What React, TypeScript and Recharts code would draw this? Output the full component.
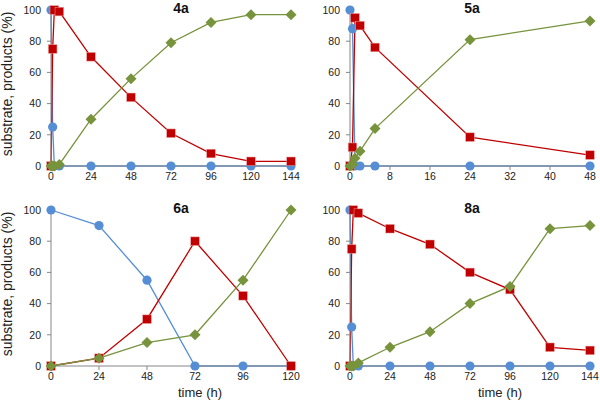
import { LineChart, Line, XAxis, YAxis } from "recharts";

const hoursLong = [0, 1, 2, 5, 24, 48, 72, 96, 120, 144];
const hoursShort = [0, 0.5, 1, 2, 5, 24, 48];
const hoursDaily = [0, 24, 48, 72, 96, 120];

const substrate4a = [100, 25, 0, 0, 0, 0, 0, 0, 0, 0];
const intermediate4a = [0, 75, 100, 99, 70, 44, 21, 8, 3, 3];
const product4a = [0, 0, 0, 1, 30, 56, 79, 92, 97, 97];

const substrate5a = [100, 88, 0, 0, 0, 0, 0];
const intermediate5a = [0, 12, 95, 90, 76, 18.5, 7];
const product5a = [0, 1, 5, 9.5, 24, 81, 93];

const substrate6a = [100, 90, 55, 0, 0, 0];
const intermediate6a = [0, 5, 30, 80, 45, 0];
const product6a = [0, 5, 15, 20, 55, 100];

const substrate8a = [100, 25, 0, 0, 0, 0, 0, 0, 0, 0];
const intermediate8a = [0, 75, 100, 98, 88, 78, 60, 49, 12, 10];
const product8a = [0, 0, 0, 2, 12, 22, 40, 51, 88, 90];

const ticksLong = [0, 24, 48, 72, 96, 120, 144];
const ticksShort = [0, 8, 16, 24, 32, 40, 48];
const ticksDaily = [0, 24, 48, 72, 96, 120];
const yTicks = [0, 20, 40, 60, 80, 100];

const BLUE = "#558ED5";
const RED = "#C00000";
const GREEN = "#77933C";
const AXIS = "#868686";
const FONT = "'Liberation Sans', Arial, sans-serif";

const Circle = (p: any) =>
  p.cx == null ? null : <circle key={p.index} cx={p.cx} cy={p.cy} r={4.6} fill={BLUE} />;
const Square = (p: any) =>
  p.cx == null ? null : (
    <rect key={p.index} x={p.cx - 4.3} y={p.cy - 4.3} width={8.6} height={8.6} fill={RED} stroke="#e9a0a0" strokeWidth={0.5} />
  );
const Diamond = (p: any) =>
  p.cx == null ? null : (
    <path key={p.index} d={`M${p.cx},${p.cy - 5.5}L${p.cx + 5.5},${p.cy}L${p.cx},${p.cy + 5.5}L${p.cx - 5.5},${p.cy}Z`} fill={GREEN} />
  );

function Panel({ left, top, height, times, substrate, intermediate, product, xTicks, yLabel, xLabel, yWidth }: any) {
  const data = times.map((t: number, i: number) => ({ t, s: substrate[i], m: intermediate[i], p: product[i] }));
  const xMax = xTicks[xTicks.length - 1];
  const tick = { fontSize: 10.5, fill: "#222", fontFamily: FONT };
  return (
    <div style={{ position: "absolute", left, top }}>
      <LineChart width={300} height={height} data={data} margin={{ top: 10, right: 300 - yWidth - 240, bottom: 0, left: 0 }}>
        <XAxis
          dataKey="t"
          type="number"
          domain={[0, xMax]}
          ticks={xTicks}
          interval={0}
          height={height - 166}
          stroke={AXIS}
          tickSize={4}
          tickMargin={3}
          tick={tick}
          label={
            xLabel
              ? () => (
                  <text x={200} y={197} textAnchor="middle" fontSize={13} fontFamily={FONT} fill="#222">
                    time (h)
                  </text>
                )
              : undefined
          }
        />
        <YAxis
          type="number"
          domain={[0, 100]}
          ticks={yTicks}
          interval={0}
          width={yWidth}
          stroke={AXIS}
          tickSize={4}
          tickMargin={6}
          tick={tick}
          label={
            yLabel
              ? () => (
                  <text x={12} y={84} transform="rotate(-90 12 84)" textAnchor="middle" fontSize={14} fontFamily={FONT} fill="#222">
                    substrate, products (%)
                  </text>
                )
              : undefined
          }
        />
        <Line dataKey="s" stroke={BLUE} strokeWidth={1.3} dot={Circle} isAnimationActive={false} />
        <Line dataKey="m" stroke={RED} strokeWidth={1.3} dot={Square} isAnimationActive={false} />
        <Line dataKey="p" stroke={GREEN} strokeWidth={1.3} dot={Diamond} isAnimationActive={false} />
      </LineChart>
    </div>
  );
}

export default function App() {
  return (
    <div style={{ position: "absolute", left: 0, top: 0, width: 600, height: 404, background: "#fff" }}>
      <Panel left={0} top={0} height={200} times={hoursLong} substrate={substrate4a} intermediate={intermediate4a} product={product4a} xTicks={ticksLong} yLabel yWidth={51} />
      <Panel left={300} top={0} height={200} times={hoursShort} substrate={substrate5a} intermediate={intermediate5a} product={product5a} xTicks={ticksShort} yWidth={50} />
      <Panel left={0} top={200} height={204} times={hoursDaily} substrate={substrate6a} intermediate={intermediate6a} product={product6a} xTicks={ticksDaily} yLabel xLabel yWidth={51} />
      <Panel left={300} top={200} height={204} times={hoursLong} substrate={substrate8a} intermediate={intermediate8a} product={product8a} xTicks={ticksLong} xLabel yWidth={50} />
      <svg width={600} height={404} style={{ position: "absolute", left: 0, top: 0, pointerEvents: "none" }}>
        {[
          ["4a", 181, 13],
          ["5a", 472, 13],
          ["6a", 181, 213],
          ["8a", 472, 213],
        ].map(([t, x, y]) => (
          <text key={t as string} x={x as number} y={y as number} textAnchor="middle" fontSize={14} fontWeight="bold" fontFamily={FONT} fill="#111">
            {t}
          </text>
        ))}
      </svg>
    </div>
  );
}
